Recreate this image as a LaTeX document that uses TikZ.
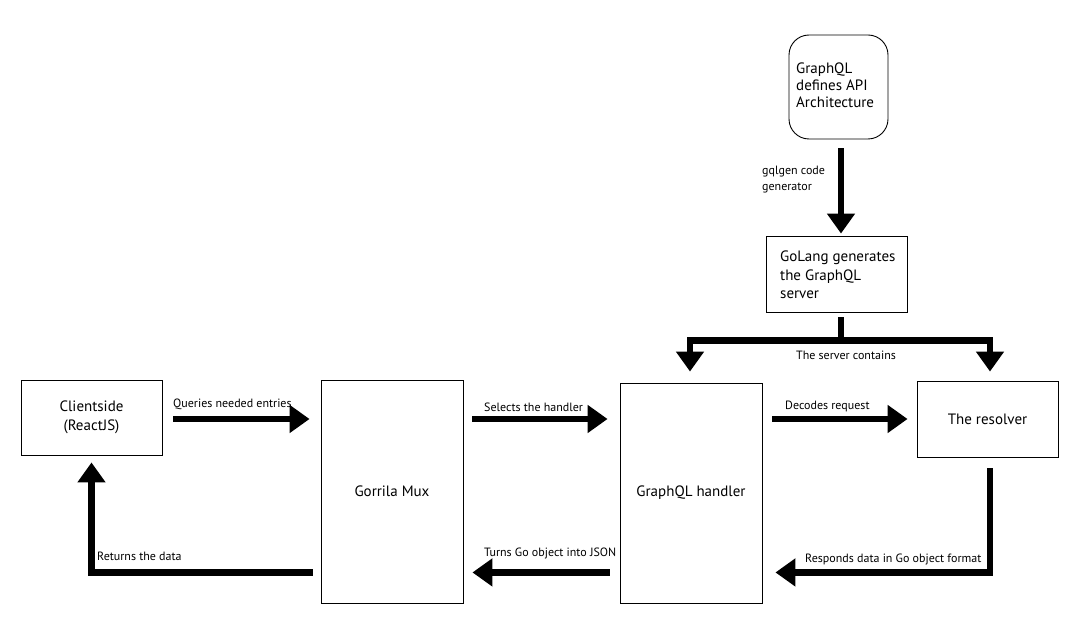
\documentclass[tikz,border=0pt]{standalone}
\usepackage{fontspec}
\setmainfont{PT Sans}
\usetikzlibrary{arrows.meta,calc}
\tikzset{
  box/.style={draw, line width=0.9pt, inner sep=0pt, align=center, font=\fontsize{15}{18.5}\selectfont},
  arr/.style={line width=6.5pt, line join=miter, -{Triangle[width=27pt,length=20pt]}},
  bar/.style={line width=6.5pt, line join=miter},
  lbl/.style={inner sep=0pt, font=\fontsize{12}{16}\selectfont},
}
\begin{document}
\begin{tikzpicture}[x=1pt,y=-1pt]
\useasboundingbox[fill=white] (0,0) rectangle (1080,639);
% nodes
\node[box, rounded corners=20pt, minimum width=99pt, minimum height=104pt] (api) at (838.5,87) {};
\node[inner sep=0pt, anchor=west, align=left, font=\fontsize{15}{17}\selectfont] (apitxt) at (796,85) {GraphQL\\defines API\\Architecture};
\node[box, minimum width=141pt, minimum height=76pt] (golang) at (836.5,274) {};
\node[inner sep=0pt, anchor=west, align=left, font=\fontsize{15}{18.5}\selectfont] (gotxt) at (780,275) {GoLang generates\\the GraphQL\\server};
\node[box, minimum width=141pt, minimum height=75pt] (client) at (91.5,417.5) {Clientside\\(ReactJS)};
\node[box, minimum width=142pt, minimum height=223pt] (mux) at (392,491.5) {Gorrila Mux};
\node[box, minimum width=142pt, minimum height=220pt] (handler) at (691,493) {GraphQL handler};
\node[box, minimum width=141pt, minimum height=76pt] (resolver) at (987.5,419) {The resolver};
% coordinates
\coordinate (j) at ($(golang.south)+(4.5,28)$);
% top arrow
\draw[arr] ($(api.south)+(2.5,9)$) -- ($(golang.north)+(4.5,-2)$);
\node[lbl, anchor=west, align=left] (gq) at (762,180) {gqlgen code\\generator};
% split
\draw[bar] ($(golang.south)+(4.5,5)$) -- (j);
\draw[arr] (j) -| ($(handler.north)+(-1,-11)$);
\draw[arr] (j) -| ($(resolver.north)+(2.5,-9)$);
\node[lbl] (sc) at (846,355) {The server contains};
% forward arrows
\draw[arr] ($(client.east)+(11,1.5)$) -- ($(mux.west |- client.east)+(-11,1.5)$);
\node[lbl, anchor=west] (q) at (173,404) {Queries needed entries};
\draw[arr] ($(mux.east |- client.east)+(9,1.5)$) -- ($(handler.west |- client.east)+(-12,1.5)$);
\node[lbl, anchor=west] (s) at (484,407) {Selects the handler};
\draw[arr] ($(handler.east |- client.east)+(10,1.5)$) -- ($(resolver.west |- client.east)+(-9,1.5)$);
\node[lbl, anchor=west] (d) at (785,406) {Decodes request};
% return arrows
\coordinate (rc) at ($(resolver.south)+(2.5,115)$);
\draw[arr] ($(resolver.south)+(2.5,11)$) -- (rc) -- ($(handler.east |- rc)+(13,0)$);
\node[lbl, anchor=west] (r) at (805,559) {Responds data in Go object format};
\draw[arr] ($(handler.west |- rc)+(-10,0)$) -- ($(mux.east |- rc)+(9,0)$);
\node[lbl, anchor=west] (t) at (484,553) {Turns Go object into JSON};
\coordinate (lc) at (client.south |- rc);
\draw[arr] ($(mux.west |- rc)+(-8,0)$) -- (lc) -- ($(client.south)+(0,7)$);
\node[lbl, anchor=west] (rd) at (97,556) {Returns the data};
\end{tikzpicture}
\end{document}
